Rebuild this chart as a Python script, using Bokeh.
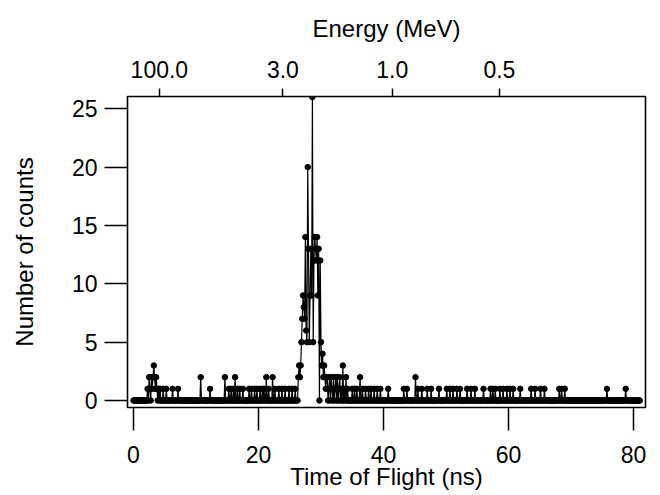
import numpy as np
from bokeh.plotting import figure
from bokeh.models import Range1d, LinearAxis, FixedTicker, CustomJSTickFormatter
from bokeh.embed import file_html
from bokeh.resources import INLINE

# ---------------- data ----------------
bin_width = 0.125          # ns
tof_min, tof_max = 0.0, 81.0

# non-zero bins: time of flight (ns) and counts
hit_tof = [
    2.25, 2.5, 2.625, 2.875, 3.0, 3.125, 3.25, 3.375, 3.5, 3.625, 3.75, 4.0, 4.25,
    4.75, 5.25, 6.25, 7.125,
    10.75, 12.25, 14.625, 15.25, 15.625, 16.0, 16.25, 16.625, 17.0, 17.5,
    18.5, 18.875, 19.375, 19.75, 20.25, 20.625, 20.875, 21.25, 21.625, 22.25,
    22.625, 23.25, 23.75, 24.25, 24.875, 25.375, 25.875,
    26.375, 26.5, 26.625, 26.75, 26.875, 27.0, 27.125, 27.25, 27.375, 27.5,
    27.625, 27.75, 27.875, 28.0, 28.125, 28.25, 28.375, 28.5, 28.625, 28.75,
    28.875, 29.0, 29.125, 29.25, 29.375, 29.5, 29.625, 29.875, 30.0, 30.125,
    30.25, 30.375, 30.5,
    30.625, 30.75, 30.875, 31.0, 31.25, 31.375, 31.625, 31.75, 32.0, 32.25,
    32.375, 32.625, 32.875, 33.0, 33.25, 33.5, 33.75, 34.0, 34.25,
    35.0, 35.375, 35.75, 36.25, 36.625, 37.125, 37.625, 38.0, 38.5, 39.0, 39.5,
    40.75, 43.25, 43.75, 45.125, 45.5, 46.125, 47.0, 47.625, 48.875,
    50.125, 50.625, 51.125, 51.75, 52.25, 53.375, 54.0, 54.625, 56.0,
    57.125, 57.5, 57.875, 58.625, 59.125, 59.75, 60.25, 60.75, 61.875,
    63.625, 64.25, 65.125, 65.75, 68.125, 68.5, 69.0, 75.75, 78.75,
]
hit_counts = [
    1, 2, 1, 2, 1, 2, 3, 2, 1, 2, 1, 1, 1,
    1, 1, 1, 1,
    2, 1, 2, 1, 1, 1, 2, 1, 1, 1,
    1, 1, 1, 1, 1, 1, 1, 2, 1, 2,
    1, 1, 1, 1, 1, 1, 1,
    2, 3, 2, 3, 5, 7, 9, 8, 7, 14,
    6, 5, 20, 13, 5, 9, 13, 9, 26, 5,
    12, 14, 13, 12, 14, 9, 13, 12, 5, 3,
    4, 2, 3,
    2, 1, 2, 2, 1, 2, 2, 1, 2, 1,
    2, 2, 1, 2, 1, 3, 1, 2, 1,
    1, 1, 1, 2, 1, 1, 1, 1, 1, 1, 1,
    1, 1, 1, 2, 1, 1, 1, 1, 1,
    1, 1, 1, 1, 1, 1, 1, 1, 1,
    1, 1, 1, 1, 1, 1, 1, 1, 1,
    1, 1, 1, 1, 1, 1, 1, 1, 1,
]

# axis ticks
x_ticks = [0, 20, 40, 60, 80]
y_ticks = [0, 5, 10, 15, 20, 25]
energy_ticks = [100.0, 3.0, 1.0, 0.5]          # MeV
energy_labels = ["100.0", "3.0", "1.0", "0.5"]
flight_const = 41.4                              # ns * sqrt(MeV)

# ---------------- build the full histogram ----------------
tof = np.round(np.arange(tof_min, tof_max + bin_width / 2, bin_width), 4)
counts = np.zeros_like(tof)
idx = np.round(np.array(hit_tof) / bin_width).astype(int)
counts[idx] = hit_counts

energy_pos = [round(flight_const / np.sqrt(e), 4) for e in energy_ticks]

FONT = "Liberation Sans"
TICK_FS = "23px"
TITLE_FS = "24px"

p = figure(width=660, height=495, output_backend="svg", toolbar_location=None,
           x_range=Range1d(-0.96, 81.92), y_range=Range1d(-0.6, 26.05),
           min_border_left=127, min_border_right=15, min_border_top=96,
           min_border_bottom=88)
p.grid.grid_line_color = None
p.outline_line_color = "black"
p.outline_line_width = 1.6
p.background_fill_color = "white"
p.border_fill_color = "white"

p.line(tof, counts, line_color="black", line_width=1.2)
p.scatter(tof, counts, size=5.5, fill_color="black", line_color="black")


def style(ax, tick_out, standoff, label_standoff):
    ax.axis_line_color = None
    ax.major_tick_line_color = "black"
    ax.major_tick_line_width = 1.5
    ax.major_tick_in = 0
    ax.major_tick_out = tick_out
    ax.minor_tick_line_color = None
    ax.major_label_text_font = FONT
    ax.major_label_text_font_size = TICK_FS
    ax.major_label_text_color = "black"
    ax.major_label_standoff = standoff
    ax.axis_label_text_font = FONT
    ax.axis_label_text_font_size = TITLE_FS
    ax.axis_label_text_font_style = "normal"
    ax.axis_label_text_color = "black"
    ax.axis_label_standoff = label_standoff


xa = p.xaxis[0]
xa.ticker = FixedTicker(ticks=x_ticks)
xa.axis_label = "Time of Flight (ns)"
style(xa, 23, 15, -3)

ya = p.yaxis[0]
ya.ticker = FixedTicker(ticks=y_ticks)
ya.axis_label = "Number of counts"
style(ya, 23, 7, 31)

top = LinearAxis(
    ticker=FixedTicker(ticks=energy_pos),
    formatter=CustomJSTickFormatter(
        args=dict(pos=energy_pos, lab=energy_labels),
        code="""
        let best = 0;
        for (let i = 0; i < pos.length; i++) {
            if (Math.abs(pos[i] - tick) < Math.abs(pos[best] - tick)) best = i;
        }
        return lab[best];
        """),
    axis_label="Energy (MeV)")
style(top, 8, 11, 16)
p.add_layout(top, "above")

open("out.html", "w").write(file_html(p, INLINE))
